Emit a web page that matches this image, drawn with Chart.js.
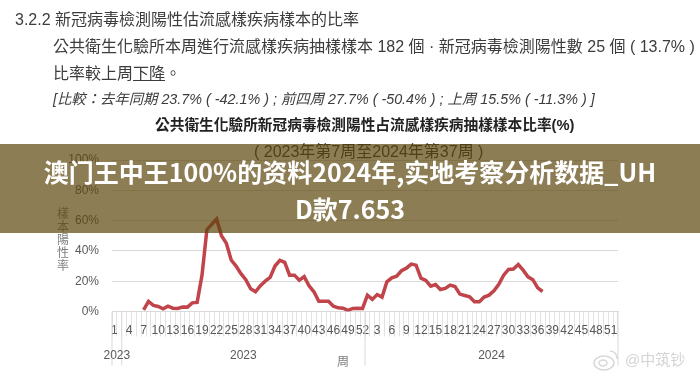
<!DOCTYPE html>
<html>
<head>
<meta charset="utf-8">
<title>chart</title>
<script src="https://cdn.jsdelivr.net/npm/chart.js@4"></script>
<style>
  html, body { margin: 0; padding: 0; background: #fff; }
  #wrap { position: relative; width: 700px; height: 379px; overflow: hidden; font-family: "Liberation Sans", "Noto Sans CJK TC", sans-serif; }
  canvas { position: absolute; left: 0; top: 0; }
  .t { position: absolute; white-space: nowrap; color: #3c3c3c; font-size: 16px; line-height: 20px; }
  #band { position: absolute; left: 0; top: 144px; width: 700px; height: 89px; background: rgba(91, 70, 12, 0.7);
    color: #fff; font-family: "Noto Sans CJK SC", sans-serif; font-weight: 700; font-size: 25px; line-height: 37px; text-align: center; padding-top: 9px; box-sizing: border-box; }
  #mark { position: absolute; left: 625px; top: 350px; color: #d4d4d4; font-size: 15px; line-height: 20px; white-space: nowrap; }
</style>
</head>
<body>
<div id="wrap">
  <canvas id="c" width="700" height="379"></canvas>
  <div class="t" style="left:15px;top:10px">3.2.2 新冠病毒檢測陽性估流感樣疾病樣本的比率</div>
  <div class="t" style="left:53px;top:37px">公共衛生化驗所本周進行流感樣疾病抽樣樣本 182 個 · 新冠病毒檢測陽性數 25 個 ( 13.7% ) ;</div>
  <div class="t" style="left:53px;top:64px">比率較上周<u>下降</u>。</div>
  <div class="t" style="left:53px;top:89px;font-size:14.35px;font-style:italic">[比較：去年同期 23.7% ( -42.1% ) ; 前四周 27.7% ( -50.4% ) ; 上周 15.5% ( -11.3% ) ]</div>
  <div class="t" style="left:155px;top:115px;font-size:14.7px;font-weight:700;color:#222">公共衛生化驗所新冠病毒檢測陽性占流感樣疾病抽樣樣本比率(%)</div>
  <div class="t" style="left:254px;top:142px;color:#333">( 2023年第7周至2024年第37周 )</div>
  <div id="band">澳门王中王100%的资料2024年,实地考察分析数据_UH<br>D款7.653</div>
  <svg style="position:absolute;left:592px;top:348px" width="30" height="24" fill="none" stroke="#d8d8d8" stroke-width="1.5">
    <ellipse cx="12" cy="15" rx="10" ry="7"/><ellipse cx="11" cy="15" rx="4" ry="3"/><path d="M18 3a7 7 0 0 1 7 8"/>
  </svg>
  <div id="mark">@中筑钞</div>
</div>
<script>
const weekLabels = ['1','2','3','4','5','6','7','8','9','10','11','12','13','14','15','16','17','18','19','20','21','22','23','24','25','26','27','28','29','30','31','32','33','34','35','36','37','38','39','40','41','42','43','44','45','46','47','48','49','50','51','52',
  '1','2','3','4','5','6','7','8','9','10','11','12','13','14','15','16','17','18','19','20','21','22','23','24','25','26','27','28','29','30','31','32','33','34','35','36','37','38','39','40','41','42','43','44','45','46','47','48','49','50','51','52'];

// share of positive samples per week
const values2023 = [null,null,null,null,null,null,1,6.6,4,3.3,1.8,3.5,2.2,2,3,2.9,5.7,6,24,54,57.5,61,50,45,34,30,25,21,15,13,17,20,22.5,30,33.7,32.4,24,24,20.7,23,17,13,6.8,6.8,6.8,3.5,2.4,2.2,0.7,2,2.2,2];
const values2024 = [10.8,8,11.2,9.5,19.6,22.2,23.3,26.9,28.6,31.3,30.6,22,20.5,16.7,17.8,14.5,15.2,17.4,16.5,11.5,10.6,9.7,6.4,6.4,9.5,10.8,13.7,18,24,27.8,28,31,27.3,22.9,21,15.6,13.2];

const yearGroups = [
  { label: '2023', from: 0, to: 2 },
  { label: '2023', from: 2, to: 52 },
  { label: '2024', from: 52, to: 104 },
];
const yTitle = ['樣', '本', '陽', '性', '率'];

const textColor = '#595959';
const axisFont = { family: '"Liberation Sans", sans-serif', size: 12 };

const groupAxis = {
  id: 'groupAxis',
  afterDraw(chart) {
    const { ctx, scales: { x, y } } = chart;
    const step = x.getPixelForValue(1) - x.getPixelForValue(0);
    const edge = i => x.getPixelForValue(0) + (i - 0.5) * step;
    ctx.save();
    ctx.strokeStyle = '#d9d9d9';
    ctx.lineWidth = 1;
    ctx.beginPath();
    yearGroups.forEach(g => {
      ctx.moveTo(edge(g.from), y.bottom);
      ctx.lineTo(edge(g.from), y.bottom + 54);
    });
    ctx.moveTo(edge(104), y.bottom);
    ctx.lineTo(edge(104), y.bottom + 54);
    ctx.stroke();
    ctx.fillStyle = textColor;
    ctx.font = '12px "Liberation Sans", sans-serif';
    ctx.textAlign = 'center';
    ctx.textBaseline = 'middle';
    yearGroups.forEach(g => ctx.fillText(g.label, (edge(g.from) + edge(g.to)) / 2, y.bottom + 44));
    // axis titles
    ctx.fillStyle = '#7f7f7f';
    ctx.font = '12px "Noto Sans CJK TC", sans-serif';
    ctx.fillText('周', edge(47.5), y.bottom + 50);
    yTitle.forEach((ch, i) => ctx.fillText(ch, 63, 213 + i * 13));
    ctx.restore();
  }
};

new Chart(document.getElementById('c'), {
  type: 'line',
  data: {
    labels: weekLabels,
    datasets: [{
      data: values2023.concat(values2024),
      borderColor: '#c0444a',
      borderWidth: 3.5,
      pointRadius: 0,
      tension: 0,
      fill: false,
    }],
  },
  options: {
    responsive: false,
    animation: false,
    layout: { padding: { left: 0, right: 82, top: 160, bottom: 0 } },
    plugins: { legend: { display: false }, tooltip: { enabled: false } },
    scales: {
      x: {
        type: 'category',
        offset: true,
        afterFit: s => { s.height = 67.5; },
        border: { color: '#d9d9d9' },
        grid: { offset: true, drawOnChartArea: false, drawTicks: true, tickLength: 25, tickColor: '#e2e2e2' },
        ticks: {
          autoSkip: false,
          maxRotation: 0,
          minRotation: 0,
          padding: -13,
          color: textColor,
          font: axisFont,
          callback: (v, i) => (i % 3 === 0 ? weekLabels[i] : ''),
        },
      },
      y: {
        min: 0,
        max: 100,
        afterFit: s => { s.width = 112; },
        border: { display: false },
        grid: { color: '#d9d9d9', drawTicks: false },
        ticks: { stepSize: 20, padding: 13, color: textColor, font: axisFont, callback: v => v + '%' },
      },
    },
  },
  plugins: [groupAxis],
});
</script>
</body>
</html>
